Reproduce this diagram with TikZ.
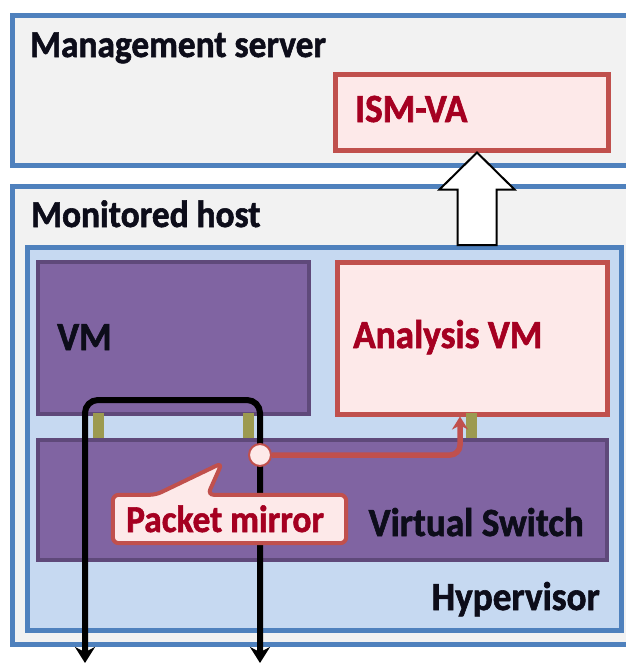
\documentclass[tikz,border=0pt]{standalone}
\usepackage{fontspec}
\setmainfont{Carlito}[FakeStretch=0.93, BoldFeatures={FakeBold=1.5}]
\usepackage{xcolor}
\definecolor{frameBlue}{HTML}{4F81BD}
\definecolor{paleGray}{HTML}{F2F2F2}
\definecolor{skyBlue}{HTML}{C6D9F1}
\definecolor{vmPurple}{HTML}{8064A2}
\definecolor{vmEdge}{HTML}{5F497A}
\definecolor{appRed}{HTML}{C0504D}
\definecolor{appPink}{HTML}{FDE9E9}
\definecolor{deepRed}{HTML}{A50021}
\definecolor{portOlive}{HTML}{9C9A50}
\definecolor{inkText}{HTML}{0D0D1A}
\usepackage{tikz}
\usetikzlibrary{
    arrows.meta,
    positioning,
    calc
}
\tikzset{
    % Base style for all boxes
    box base/.style={
        rectangle,
        anchor=north west,
        inner sep=0pt,
    },
    % Outer host boxes - pale gray with blue frame
    host box/.style={
        box base,
        draw=frameBlue,
        line width=4.5pt,
        fill=paleGray,
        minimum width=622pt,
    },
    % Hypervisor layer - light blue
    hyper box/.style={
        box base,
        draw=frameBlue,
        line width=4.5pt,
        fill=skyBlue,
        minimum width=594pt,
        minimum height=383pt,
    },
    % Guest and switch boxes - purple
    vm box/.style={
        box base,
        draw=vmEdge,
        line width=4pt,
        fill=vmPurple,
    },
    % ISM boxes - pink with red frame
    app box/.style={
        box base,
        draw=appRed,
        line width=4.5pt,
        fill=appPink,
    },
    % Virtual NIC ports
    port/.style={
        rectangle,
        fill=portOlive,
        inner sep=0pt,
        minimum width=11pt,
        minimum height=25pt,
    },
    % Black labels
    box label/.style={
        inner sep=0pt,
        font=\bfseries\fontsize{40}{40}\selectfont,
        text=inkText,
    },
    % Host titles
    title label/.style={
        box label,
        font=\bfseries\fontsize{38}{38}\selectfont,
    },
    % Red labels
    app label/.style={
        box label,
        text=deepRed,
    },
    % Traffic line - black with arrow ends
    traffic/.style={
        {Stealth[length=16pt, width=20pt]}-{Stealth[length=16pt, width=20pt]},
        line width=6pt,
        draw=black,
        rounded corners=13pt,
    },
    % Mirrored traffic - red
    mirror line/.style={
        -{Stealth[length=13pt, width=16pt]},
        line width=5.5pt,
        draw=appRed,
        rounded corners=10pt,
    },
    % Mirror point
    mirror point/.style={
        circle,
        draw=appRed,
        line width=2pt,
        fill=appPink,
        minimum size=22pt,
        inner sep=0pt,
    },
    % Callout frame and text
    callout frame/.style={
        rectangle,
        minimum width=233pt,
        minimum height=48pt,
        inner sep=0pt,
    },
    callout edge/.style={
        draw=appRed,
        line width=4pt,
        fill=appPink,
        rounded corners=6pt,
    },
    callout text/.style={
        app label,
        font=\bfseries\fontsize{38}{38}\selectfont,
    },
    % Block arrow
    block arrow/.style={
        draw=black,
        line width=2pt,
        fill=white,
        line join=miter,
    },
}

\begin{document}
\begin{tikzpicture}[x=1pt, y=-1pt]
    \fill[white] (0,0) rectangle (625,665);
    \useasboundingbox (0,0) rectangle (625,665);

    \node (server) [host box, minimum height=150pt] at (10,13) {};
    \node (host) [host box, minimum height=458pt] at (10,184) {};
    \node (ismva) [app box, minimum width=273pt, minimum height=76pt] at (333,72) {};
    \node (hyper) [hyper box] at (25,245) {};
    \node (vm) [vm box, minimum width=271pt, minimum height=152pt] at (36,260) {};
    \node (anavm) [app box, minimum width=270pt, minimum height=152pt] at (335,260) {};
    \node (vswitch) [vm box, minimum width=569pt, minimum height=120pt] at (36,438) {};

    \node (port1) [port] at (98.5,425) {};
    \node (port2) [port] at (248,425) {};
    \node (port3) [port] at (471,425) {};

    \node (serverlabel) [title label, anchor=base west] at (30,57) {Management server};
    \node (ismlabel) [app label, anchor=base west] at (355,122) {ISM-VA};
    \node (hostlabel) [title label, anchor=base west] at (31,227) {Monitored host};
    \node (vmlabel) [box label, anchor=base west] at (57,350) {VM};
    \node (analabel) [app label, anchor=base west] at (353,348) {Analysis VM};
    \node (switchlabel) [box label, anchor=base east] at (584,536) {Virtual Switch};
    \node (hyperlabel) [box label, anchor=base east] at (600,610) {Hypervisor};

    \coordinate (out1) at (85,663);
    \coordinate (turn1) at (85,400);
    \coordinate (turn2) at (260,400);
    \coordinate (out2) at (260,663);
    \draw [traffic] (out1) -- (turn1) -- (turn2) -- (out2);

    \node (mirror) [mirror point] at (260,455) {};
    \draw [mirror line] (mirror.east) -| ($(anavm.south west)+(125,0)$);

    \coordinate (ptip) at (222,463);
    \node (mirrorbox) [callout frame] at (229.5,519) {};
    \draw [callout edge] ($(mirrorbox.north west)+(43,0)$) -- (ptip) -- ($(mirrorbox.north west)+(95,0)$)
        -- (mirrorbox.north east) -- (mirrorbox.south east) -- (mirrorbox.south west)
        -- (mirrorbox.north west) -- cycle;
    \node (mirrorlabel) [callout text, anchor=base west] at (126,532) {Packet mirror};

    \coordinate (tip) at ($(ismva.south west)+(144,0)$);
    \coordinate (tail) at (tip |- hyper.north);
    \draw [block arrow] (tip) -- ++(37.5,37) -- ++(-18,0) -- ($(tail)+(19.5,0)$)
        -- ($(tail)+(-19.5,0)$) -- ($(tip)+(-19.5,37)$) -- ++(-18,0) -- cycle;
\end{tikzpicture}
\end{document}
